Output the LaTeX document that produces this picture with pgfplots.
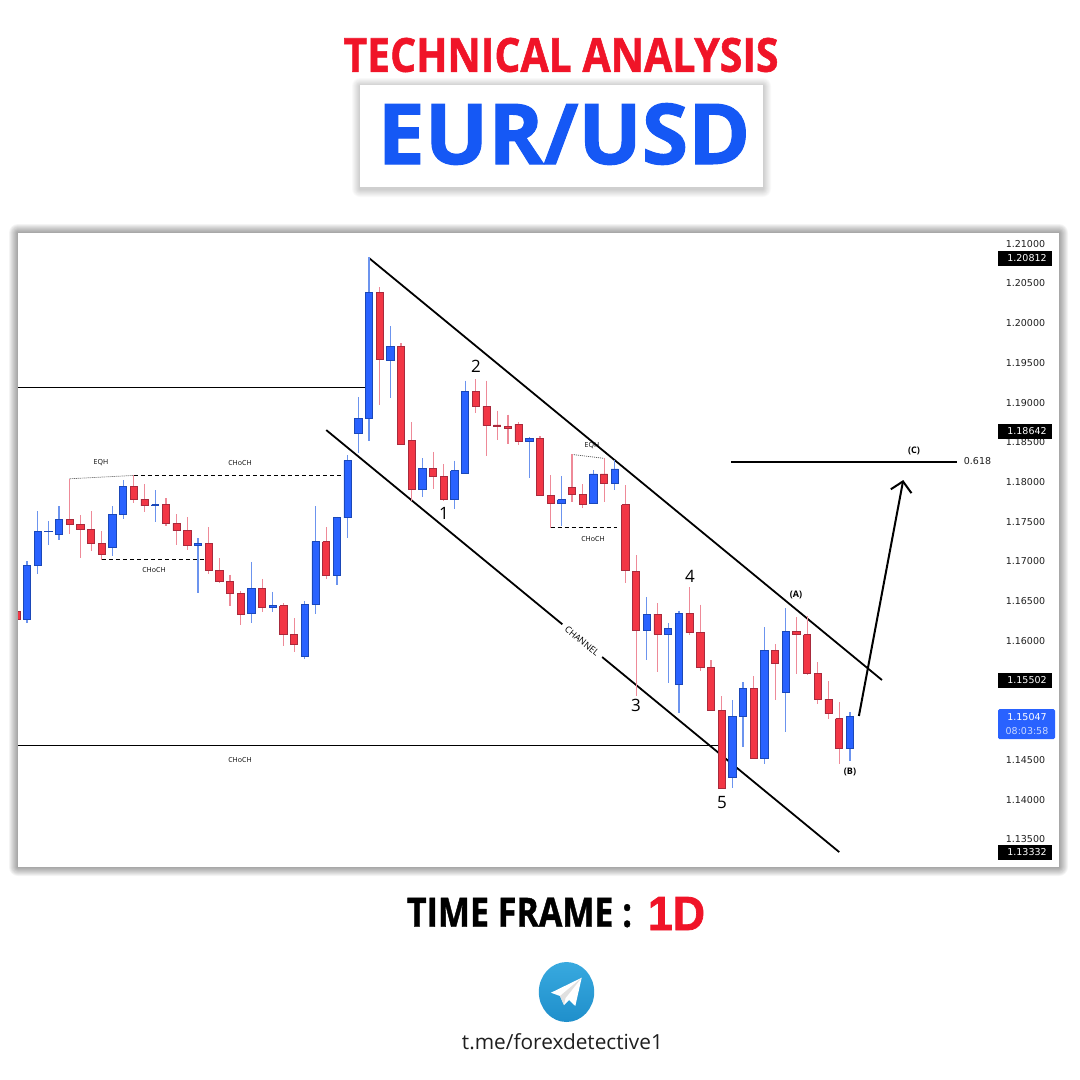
\documentclass[border=0pt]{standalone}
\usepackage{pgfplots}
\pgfplotsset{compat=1.18}
\usetikzlibrary{arrows.meta}
\usepackage{graphicx}
\usepackage{fontspec}
\setmainfont{Open Sans}
\newfontfamily\hv[BoldFeatures={FakeBold=1.2}]{Open Sans}
\newfontfamily\hvb[BoldFeatures={FakeBold=1.6}]{Liberation Sans}
\newfontfamily\djv{DejaVu Sans}
\definecolor{cR}{HTML}{F23645}\definecolor{cRD}{HTML}{A82A3C}\definecolor{cRW}{HTML}{EE8A98}
\definecolor{cB}{HTML}{2962FF}\definecolor{cBD}{HTML}{1B48B8}\definecolor{cBW}{HTML}{6C94EE}
\definecolor{ttlR}{HTML}{F01428}\definecolor{ttlB}{HTML}{1558F5}
\definecolor{tgT}{HTML}{38A9DF}\definecolor{tgB}{HTML}{1F8FCB}
% style, index, high, body top, body bottom, low
\newcommand{\candle}[6]{%
  \pgfmathsetmacro\xl{#2-0.34}\pgfmathsetmacro\xr{#2+0.34}%
  \addplot[w#1] coordinates {(#2,#3) (#2,#6)};
  \addplot[#1] coordinates {(\xl,#4) (\xr,#4) (\xr,#5) (\xl,#5) (\xl,#4)};
}
\begin{document}
\begin{tikzpicture}[x=1pt,y=-1pt]
\useasboundingbox (0,0) rectangle (1080,1080);
\fill[white] (0,0) rectangle (1080,1080);
% headline
\node at (561,55) {\resizebox{435pt}{34pt}{\hv\bfseries\color{ttlR}TECHNICAL ANALYSIS}};
\foreach \dd in {8,7,...,1}{
  \fill[black,opacity=.022,rounded corners=\dd pt] (360-\dd,85-\dd+1) rectangle (763+\dd,187+\dd+2);}
\fill[white] (360,85) rectangle (763,187);
\node[anchor=base,inner sep=0pt] at (564,164) {\fontsize{84}{84}\selectfont\hv\bfseries\color{ttlB}EUR/USD};
% chart frame
\foreach \dd in {9,8,...,1}{
  \fill[black,opacity=.042,rounded corners=\dd pt] (18-\dd,233-\dd) rectangle (1059+\dd,867+\dd);}
\fill[white] (18,233) rectangle (1059,867);
\begin{axis}[
  at={(18pt,-867pt)},anchor=south west,
  width=1041pt,height=634pt,scale only axis,
  xmin=0.158,xmax=97.56,ymin=1.13144,ymax=1.21126,
  axis line style={draw=none},tick style={draw=none},
  xtick=\empty,
  ytick={1.135,1.14,1.145,1.16,1.165,1.17,1.175,1.18,1.185,1.19,1.195,1.2,1.205,1.21},
  yticklabel pos=right,
  yticklabel style={anchor=center,xshift=-33.5pt,yshift=-.8pt,font=\djv\fontsize{9.5}{9.5}\selectfont,text=black!88,
    /pgf/number format/fixed,/pgf/number format/precision=5,/pgf/number format/zerofill,
    /pgf/number format/assume math mode=true},
  up/.style={fill=cB,draw=cBD,line width=.8pt,line join=miter},
  dn/.style={fill=cR,draw=cRD,line width=.8pt,line join=miter},
  wup/.style={draw=cBW,line width=1.2pt},
  wdn/.style={draw=cRW,line width=1.2pt},
]
% structure lines
\addplot[black,line width=.9pt] coordinates {(0.158,1.19187) (32.6,1.19187)};
\addplot[black,line width=.9pt] coordinates {(0.158,1.14679) (65.8,1.14679)};
\addplot[black,line width=1.8pt] coordinates {(33,1.20811) (81,1.15498)};
\addplot[black,line width=1.8pt] coordinates {(29,1.18645) (77,1.13332)};
\addplot[black,line width=.8pt,dash pattern=on 4pt off 3pt] coordinates {(11,1.18074) (31,1.18074)};
\addplot[black,line width=.8pt,dash pattern=on 4pt off 3pt] coordinates {(8,1.17012) (17.7,1.17012)};
\addplot[black,line width=.8pt,dash pattern=on 4pt off 3pt] coordinates {(50,1.17416) (56.2,1.17416)};
\addplot[black!70,line width=.7pt,dash pattern=on 1pt off 1pt] coordinates {(5,1.18032) (11,1.18074)};
\addplot[black!70,line width=.7pt,dash pattern=on 1pt off 1pt] coordinates {(52,1.18339) (55,1.18289)};
% candles
\candle{dn}{0}{1.16358}{1.16358}{1.16261}{1.16261}
\candle{up}{1}{1.16996}{1.16945}{1.16261}{1.16219}
\candle{up}{2}{1.17625}{1.17369}{1.16941}{1.16828}
\candle{up}{3}{1.17499}{1.17373}{1.17365}{1.17193}
\candle{up}{4}{1.17688}{1.17520}{1.17336}{1.17260}
\candle{dn}{5}{1.18032}{1.17520}{1.17457}{1.17336}
\candle{dn}{6}{1.17575}{1.17461}{1.17398}{1.17029}
\candle{dn}{7}{1.17625}{1.17398}{1.17214}{1.17126}
\candle{dn}{8}{1.17369}{1.17218}{1.17075}{1.17012}
\candle{up}{9}{1.17688}{1.17583}{1.17163}{1.17059}
\candle{up}{10}{1.18015}{1.17940}{1.17579}{1.17529}
\candle{dn}{11}{1.18074}{1.17940}{1.17776}{1.17722}
\candle{dn}{12}{1.17965}{1.17776}{1.17692}{1.17613}
\candle{up}{13}{1.17890}{1.17705}{1.17692}{1.17487}
\candle{dn}{14}{1.17789}{1.17705}{1.17470}{1.17436}
\candle{dn}{15}{1.17587}{1.17470}{1.17378}{1.17201}
\candle{dn}{16}{1.17545}{1.17382}{1.17189}{1.17134}
\candle{up}{17}{1.17285}{1.17218}{1.17193}{1.16593}
\candle{dn}{18}{1.17419}{1.17218}{1.16882}{1.16836}
\candle{dn}{19}{1.17029}{1.16882}{1.16735}{1.16723}
\candle{dn}{20}{1.16823}{1.16740}{1.16584}{1.16429}
\candle{dn}{21}{1.16614}{1.16588}{1.16324}{1.16186}
\candle{up}{22}{1.16987}{1.16656}{1.16332}{1.16219}
\candle{dn}{23}{1.16773}{1.16656}{1.16408}{1.16349}
\candle{up}{24}{1.16609}{1.16437}{1.16412}{1.16353}
\candle{dn}{25}{1.16463}{1.16433}{1.16076}{1.15930}
\candle{dn}{26}{1.16274}{1.16076}{1.15946}{1.15850}
\candle{up}{27}{1.16488}{1.16446}{1.15791}{1.15766}
\candle{up}{28}{1.17688}{1.17239}{1.16446}{1.16328}
\candle{dn}{29}{1.17419}{1.17239}{1.16819}{1.16765}
\candle{up}{30}{1.17554}{1.17545}{1.16819}{1.16693}
\candle{up}{31}{1.18326}{1.18259}{1.17541}{1.17285}
\candle{up}{32}{1.19061}{1.18792}{1.18604}{1.18360}
\candle{up}{33}{1.20820}{1.20379}{1.18792}{1.18507}
\candle{dn}{34}{1.20442}{1.20379}{1.19531}{1.18956}
\candle{up}{35}{1.19955}{1.19699}{1.19527}{1.19053}
\candle{dn}{36}{1.19741}{1.19699}{1.18469}{1.18469}
\candle{dn}{37}{1.18742}{1.18511}{1.17899}{1.17756}
\candle{up}{38}{1.18289}{1.18163}{1.17899}{1.17806}
\candle{dn}{39}{1.18369}{1.18163}{1.18058}{1.17907}
\candle{dn}{40}{1.18213}{1.18062}{1.17768}{1.17756}
\candle{up}{41}{1.18259}{1.18134}{1.17768}{1.17651}
\candle{up}{42}{1.19267}{1.19132}{1.18096}{1.18092}
\candle{dn}{43}{1.19288}{1.19132}{1.18939}{1.18864}
\candle{dn}{44}{1.19267}{1.18939}{1.18700}{1.18322}
\candle{dn}{45}{1.18889}{1.18709}{1.18692}{1.18516}
\candle{dn}{46}{1.18839}{1.18692}{1.18662}{1.18465}
\candle{dn}{47}{1.18742}{1.18717}{1.18503}{1.18457}
\candle{up}{48}{1.18553}{1.18541}{1.18503}{1.18045}
\candle{dn}{49}{1.18566}{1.18541}{1.17819}{1.17815}
\candle{dn}{50}{1.18075}{1.17819}{1.17722}{1.17416}
\candle{up}{51}{1.18066}{1.17768}{1.17722}{1.17433}
\candle{dn}{52}{1.18339}{1.17920}{1.17836}{1.17743}
\candle{dn}{53}{1.17962}{1.17836}{1.17714}{1.17659}
\candle{up}{54}{1.18138}{1.18092}{1.17718}{1.17714}
\candle{dn}{55}{1.18289}{1.18092}{1.17970}{1.17743}
\candle{up}{56}{1.18264}{1.18155}{1.17970}{1.17886}
\candle{dn}{57}{1.17953}{1.17705}{1.16874}{1.16715}
\candle{dn}{58}{1.17067}{1.16870}{1.16127}{1.15300}
\candle{up}{59}{1.16539}{1.16329}{1.16127}{1.15750}
\candle{dn}{60}{1.16463}{1.16329}{1.16077}{1.15594}
\candle{up}{61}{1.16211}{1.16148}{1.16077}{1.15464}
\candle{up}{62}{1.16371}{1.16341}{1.15447}{1.15078}
\candle{dn}{63}{1.16669}{1.16341}{1.16094}{1.16064}
\candle{dn}{64}{1.16446}{1.16098}{1.15661}{1.15607}
\candle{dn}{65}{1.15745}{1.15661}{1.15112}{1.15103}
\candle{dn}{66}{1.15296}{1.15112}{1.14129}{1.14129}
\candle{up}{67}{1.15246}{1.15040}{1.14276}{1.14142}
\candle{up}{68}{1.15473}{1.15393}{1.15036}{1.14658}
\candle{dn}{69}{1.15548}{1.15393}{1.14511}{1.14511}
\candle{up}{70}{1.16165}{1.15871}{1.14511}{1.14436}
\candle{dn}{71}{1.15951}{1.15871}{1.15703}{1.15246}
\candle{up}{72}{1.16400}{1.16110}{1.15347}{1.14843}
\candle{dn}{73}{1.16287}{1.16110}{1.16068}{1.15577}
\candle{dn}{74}{1.16304}{1.16068}{1.15577}{1.15556}
\candle{dn}{75}{1.15720}{1.15582}{1.15250}{1.15200}
\candle{dn}{76}{1.15481}{1.15254}{1.15074}{1.15011}
\candle{dn}{77}{1.15217}{1.15011}{1.14633}{1.14436}
\candle{up}{78}{1.15095}{1.15040}{1.14633}{1.14478}
% projection
\addplot[black,line width=2.5pt] coordinates {(66.9,1.18242) (88,1.18242)};
\addplot[black,line width=2pt,-{Straight Barb[length=10pt,width=21pt,line width=2pt]}] coordinates {(78.84,1.15045) (82.99,1.18016)};
\end{axis}
% chart annotations
\tikzset{sm/.style={inner sep=0pt,font=\fontsize{7}{7}\selectfont,text=black},
         wv/.style={inner sep=0pt,font=\fontsize{17}{18}\selectfont,text=black},
         ab/.style={inner sep=0pt,font=\fontsize{9}{9}\selectfont\bfseries,text=black}}
\node[sm] at (101,463) {EQH};
\node[sm] at (240,463) {CHoCH};
\node[sm] at (154,570) {CHoCH};
\node[sm] at (592,446) {EQH};
\node[sm] at (593,539) {CHoCH};
\node[sm] at (240,760) {CHoCH};
\node[fill=white,inner xsep=5pt,inner ysep=1.5pt,rotate=-39.4,text=black,font=\fontsize{9}{9}\selectfont] at (582,641) {CHANNEL};
\node[wv] at (444,513) {1};
\node[wv] at (476,366) {2};
\node[wv] at (636,705) {3};
\node[wv] at (690,576) {4};
\node[wv] at (722,803) {5};
\node[ab] at (796,595) {(A)};
\node[ab] at (850,772) {(B)};
\node[ab] at (914,451) {(C)};
\node[inner sep=0pt,font=\djv\fontsize{9.5}{9.5}\selectfont,text=black!88] at (977.5,461) {0.618};
% price tags
\foreach \yy/\txt in {258/1.20812,431/1.18642,680/1.15502,852/1.13332}{
  \fill[black] (998,\yy-7.5) rectangle (1052,\yy+7.5);
  \node[inner sep=0pt,text=white,font=\djv\fontsize{9.5}{9.5}\selectfont] at (1027,\yy) {\txt};
}
\fill[cB,rounded corners=1.5pt] (998,709) rectangle (1055,739);
\node[inner sep=0pt,text=white,font=\djv\fontsize{9.5}{9.5}\selectfont] at (1027,717) {1.15047};
\node[inner sep=0pt,text=white!75!cB,font=\djv\fontsize{9.5}{9.5}\selectfont] at (1027,731) {08:03:58};
% footer
\node at (519.5,912.5) {\resizebox{225pt}{29pt}{\hv\bfseries\color{black}TIME FRAME :}};
\node at (676.5,913.5) {\resizebox{57pt}{33pt}{\hvb\bfseries\color{ttlR}1D}};
\shade[top color=tgT,bottom color=tgB] (566.5,992) ellipse [x radius=27.7,y radius=30];
\fill[white] (581.7,977.7)--(551,992.7)--(560,996)--(564,1005)--(569,1000)--(575.3,1006)--cycle;
\fill[black!12] (581.7,977.7)--(560,996)--(564,1005)--(565.5,998)--cycle;
\node at (562.5,1041.5) {\resizebox{201pt}{!}{\color{black!88}t.me/forexdetective1}};
\end{tikzpicture}
\end{document}
